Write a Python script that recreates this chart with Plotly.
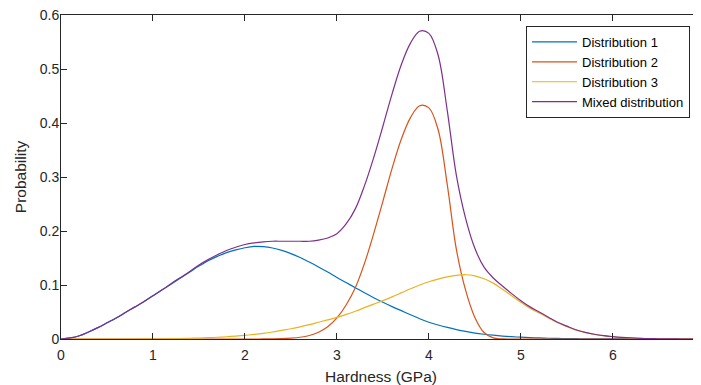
import plotly.graph_objects as go

# Hardness grid (GPa), step 0.1
hardness = [round(0.1 * i, 1) for i in range(71)]

dist1 = [0.000, 0.002, 0.006, 0.013, 0.021, 0.030, 0.039, 0.049, 0.059, 0.069,
         0.080, 0.091, 0.102, 0.113, 0.124, 0.135, 0.145, 0.153, 0.160, 0.165,
         0.169, 0.1715, 0.171, 0.1685, 0.164, 0.158, 0.151, 0.1425, 0.1335, 0.124,
         0.114, 0.1045, 0.095, 0.0855, 0.0765, 0.068, 0.060, 0.0525, 0.045, 0.0375,
         0.031, 0.026, 0.0215, 0.0175, 0.014, 0.011, 0.0088, 0.007, 0.0055, 0.0043,
         0.0033, 0.0025, 0.0019, 0.0014, 0.001, 0.0008, 0.0006, 0.0004, 0.0003, 0.0002,
         0.00015, 0.0001, 0.0001, 0.0, 0.0, 0.0, 0.0, 0.0, 0.0, 0.0,
         0.0]

dist2 = [0.0, 0.0, 0.0, 0.0, 0.0, 0.0, 0.0, 0.0, 0.0, 0.0,
         0.0, 0.0, 0.0, 0.0, 0.0, 0.0, 0.0, 0.0, 0.0, 0.0,
         0.0, 0.0, 0.0001, 0.0002, 0.0006, 0.0015, 0.0032, 0.0065, 0.0125, 0.0226,
         0.039, 0.063, 0.095, 0.140, 0.195, 0.255, 0.316, 0.370, 0.410, 0.432,
         0.428, 0.388, 0.286, 0.165, 0.090, 0.040, 0.012, 0.002, 0.0003, 0.0,
         0.0, 0.0, 0.0, 0.0, 0.0, 0.0, 0.0, 0.0, 0.0, 0.0,
         0.0, 0.0, 0.0, 0.0, 0.0, 0.0, 0.0, 0.0, 0.0, 0.0,
         0.0]

dist3 = [0.0, 0.0, 0.0, 0.0, 0.0, 0.0, 0.0, 0.0, 0.0, 0.0001,
         0.0002, 0.0004, 0.0006, 0.0009, 0.0013, 0.0018, 0.0024, 0.0032, 0.0042, 0.0054,
         0.0068, 0.0085, 0.0105, 0.013, 0.016, 0.019, 0.0225, 0.0265, 0.031, 0.0355,
         0.040, 0.0455, 0.0515, 0.058, 0.0645, 0.071, 0.078, 0.0855, 0.093, 0.100,
         0.106, 0.111, 0.115, 0.118, 0.119, 0.117, 0.1115, 0.1035, 0.092, 0.080,
         0.068, 0.057, 0.048, 0.039, 0.030, 0.023, 0.0165, 0.012, 0.0085, 0.006,
         0.0042, 0.0028, 0.0018, 0.0012, 0.0007, 0.0004, 0.0002, 0.0001, 0.0, 0.0,
         0.0]

mixed = [0.000, 0.002, 0.006, 0.013, 0.021, 0.030, 0.039, 0.049, 0.059, 0.069,
         0.080, 0.091, 0.103, 0.114, 0.125, 0.137, 0.147, 0.156, 0.164, 0.170,
         0.175, 0.178, 0.180, 0.181, 0.181, 0.181, 0.181, 0.181, 0.183, 0.187,
         0.195, 0.213, 0.241, 0.284, 0.336, 0.394, 0.454, 0.508, 0.548, 0.570,
         0.566, 0.526, 0.423, 0.302, 0.223, 0.168, 0.133, 0.113, 0.098, 0.084,
         0.071, 0.0595, 0.050, 0.0404, 0.031, 0.0238, 0.0171, 0.0124, 0.0088, 0.0062,
         0.0044, 0.0029, 0.0019, 0.0012, 0.0007, 0.0004, 0.0002, 0.0001, 0.0, 0.0,
         0.0]

names = ["Distribution 1", "Distribution 2", "Distribution 3", "Mixed distribution"]
colors = ["#0072BD", "#D95319", "#EDB120", "#7E2F8E"]
x_ticks = [0, 1, 2, 3, 4, 5, 6]
y_ticks = [0, 0.1, 0.2, 0.3, 0.4, 0.5, 0.6]
y_tick_text = ["0", "0.1", "0.2", "0.3", "0.4", "0.5", "0.6"]

FONT = "Liberation Sans, Arial, Helvetica, sans-serif"
AX = "#262626"

fig = go.Figure()
for name, ys, c in zip(names, [dist1, dist2, dist3, mixed], colors):
    fig.add_trace(go.Scatter(x=hardness, y=ys, name=name, mode="lines",
                             line=dict(color=c, width=1.2, shape="spline", smoothing=1.0)))

# helper trace so the right-hand tick axis is drawn
fig.add_trace(go.Scatter(x=[None], y=[None], yaxis="y2", showlegend=False, hoverinfo="skip"))

# the page body adds an 8px offset, so the figure is 8px smaller than the window
fig.update_layout(
    width=693, height=377,
    margin=dict(l=53, r=0, t=7, b=46),
    paper_bgcolor="white", plot_bgcolor="white",
    font=dict(family=FONT, size=14, color=AX),
    showlegend=True,
    legend=dict(x=0.7266, y=0.966, xanchor="left", yanchor="top",
                bgcolor="white", bordercolor=AX, borderwidth=1,
                font=dict(family=FONT, size=13, color="#000000"),
                tracegroupgap=0, itemwidth=45),
    xaxis=dict(range=[0, 6.959], tickvals=x_ticks, ticks="inside", ticklen=6,
               tickcolor=AX, showline=True, linecolor=AX, linewidth=1,
               mirror="ticks", showgrid=False, zeroline=False, automargin=False,
               ticklabelstandoff=3, ticklabeloverflow="allow",
               title=dict(text="Hardness (GPa)", font=dict(size=15.5), standoff=10),
               tickfont=dict(size=14)),
    yaxis=dict(range=[0, 0.6], tickvals=y_ticks, ticktext=y_tick_text,
               ticks="inside", ticklen=6, tickcolor=AX, showline=True, linecolor=AX,
               linewidth=1, mirror=False, showgrid=False, zeroline=False, automargin=False,
               ticklabelstandoff=-2, ticklabeloverflow="allow",
               title=dict(text="Probability", font=dict(size=15.5), standoff=9),
               tickfont=dict(size=14)),
    yaxis2=dict(range=[0, 0.6], tickvals=y_ticks, overlaying="y", side="right",
                ticks="inside", ticklen=6, tickcolor=AX, showline=False,
                showticklabels=False, showgrid=False, zeroline=False, automargin=False),
)

fig.write_html("out.html")
